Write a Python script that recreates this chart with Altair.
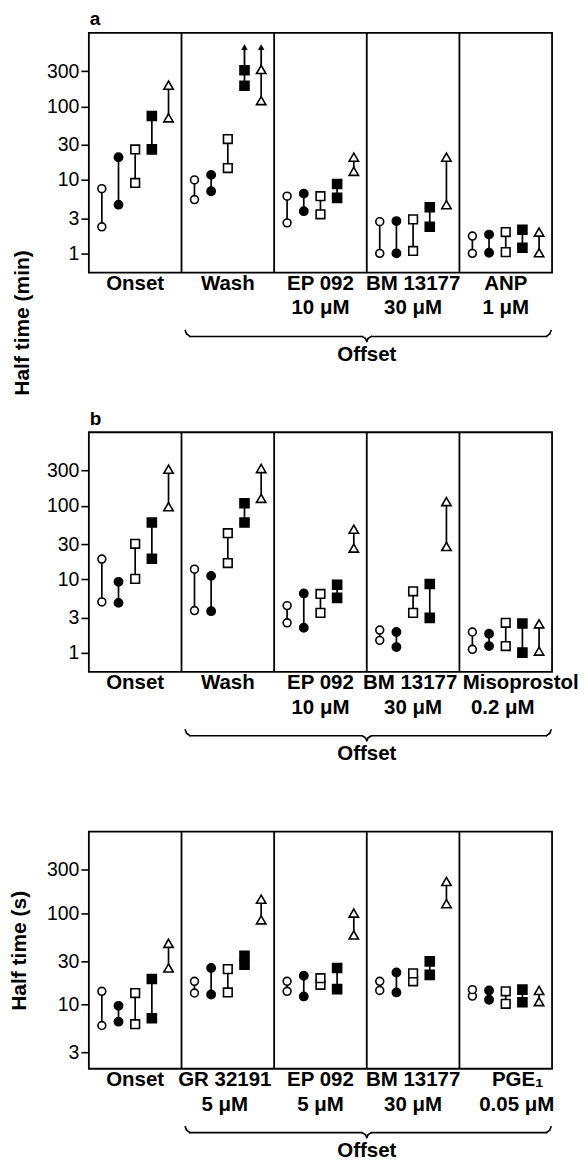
import altair as alt
import pandas as pd

FONT = "Liberation Sans"

SERIES = ["open circle", "filled circle", "open square", "filled square", "open triangle"]
SHAPES = ["circle", "circle", "square", "square", "triangle-up"]
FILLS = ["white", "black", "white", "black", "white"]
SIZES = [62, 88, 62, 88, 80]

# ---------------- Panel a : half time (min) ----------------
A_LABELS = ["Onset", "Wash", "EP 092\n10 μM", "BM 13177\n30 μM", "ANP\n1 μM"]
A_OPEN_CIRCLE = [(2.3, 7.6), (5.4, 10.0), (2.6, 6.0), (1.0, 2.7), (1.0, 1.72)]
A_FILLED_CIRCLE = [(4.6, 20.4), (7.0, 11.7), (3.75, 6.5), (1.0, 2.75), (1.02, 1.8)]
A_OPEN_SQUARE = [(9.1, 26.0), (14.5, 36.0), (3.4, 6.0), (1.08, 2.9), (1.04, 1.95)]
A_FILLED_SQUARE = [(26.0, 74.0), (191.0, 311.0), (5.7, 8.8), (2.3, 4.25), (1.19, 2.1)]
A_OPEN_TRIANGLE = [(70.0, 195.0), (120.0, 318.0), (13.1, 20.4), (4.6, 20.4), (1.02, 1.95)]
A_ARROWS = [(1, "filled square"), (1, "open triangle")]   # (group index, series)
A_ARROW_TIP = 640
A_TICKS = [1, 3, 10, 30, 100, 300]

# ---------------- Panel b : half time (min) ----------------
B_LABELS = ["Onset", "Wash", "EP 092\n10 μM", "BM 13177\n30 μM", "Misoprostol\n0.2 μM"]
B_OPEN_CIRCLE = [(4.9, 18.8), (3.74, 13.7), (2.55, 4.37), (1.47, 2.03), (1.11, 1.91)]
B_FILLED_CIRCLE = [(4.76, 9.2), (3.67, 11.1), (2.18, 6.4), (1.19, 1.91), (1.23, 1.81)]
B_OPEN_SQUARE = [(10.1, 30.3), (16.6, 42.3), (3.48, 6.3), (3.48, 6.85), (1.23, 2.55)]
B_FILLED_SQUARE = [(19.0, 59.0), (59.0, 108.0), (5.56, 8.4), (2.98, 8.6), (1.0, 2.49)]
B_OPEN_TRIANGLE = [(97.0, 314.0), (126.0, 321.0), (26.5, 47.9), (27.9, 114.0), (1.05, 2.47)]
B_TICKS = [1, 3, 10, 30, 100, 300]

# ---------------- Panel c : half time (s) ----------------
C_LABELS = ["Onset", "GR 32191\n5 μM", "EP 092\n5 μM", "BM 13177\n30 μM", "PGE₁\n0.05 μM"]
C_OPEN_CIRCLE = [(5.9, 14.0), (13.4, 18.0), (14.0, 18.0), (14.3, 18.0), (12.4, 14.6)]
C_FILLED_CIRCLE = [(6.5, 9.7), (12.9, 25.2), (12.3, 20.7), (13.6, 22.5), (11.3, 14.3)]
C_OPEN_SQUARE = [(6.1, 13.4), (13.6, 24.5), (16.5, 19.5), (18.0, 22.0), (10.2, 14.0)]
C_FILLED_SQUARE = [(7.1, 19.1), (27.4, 34.4), (14.8, 25.2), (21.2, 29.8), (10.6, 14.6)]
C_OPEN_TRIANGLE = [(25.2, 47.0), (85.0, 143.0), (58.0, 101.0), (128.0, 224.0), (10.8, 14.3)]
C_TICKS = [3, 10, 30, 100, 300]

OFFSET_LABEL = "Offset"

W = 464
GROUP_PX = W / 5.0


def brace_segments(x0, x1, xm, top, mid, tip):
    pts = [(x0, top), (x0 + 0.015, top + 3.5), (x0 + 0.05, mid),
           (xm - 0.05, mid), (xm - 0.015, mid + 2), (xm, tip),
           (xm + 0.015, mid + 2), (xm + 0.05, mid),
           (x1 - 0.05, mid), (x1 - 0.015, top + 3.5), (x1, top)]
    segs = []
    for (ax, ay), (bx, by) in zip(pts[:-1], pts[1:]):
        segs.append({"bx": ax, "bx2": bx, "p1": ay, "p2": by})
    return pd.DataFrame(segs)


def panel(letter, labels, series_lists, ticks, domain, height, ytitle,
          title_x, title_y, arrows=(), arrow_tip=None, shift1=None, shift2=None):
    rows = []
    for si, (name, pairs) in enumerate(zip(SERIES, series_lists)):
        for gi, (lo, hi) in enumerate(pairs):
            rows.append({"series": name, "group": gi,
                         "x": gi + 0.5 + (si - 2) * 0.18, "lo": lo, "hi": hi})
    df = pd.DataFrame(rows)
    pts = pd.concat([df.assign(v=df["lo"]), df.assign(v=df["hi"])], ignore_index=True)

    xs = alt.Scale(domain=[0, 5], nice=False, zero=False)
    ys = alt.Scale(type="log", domain=domain, nice=False)
    yaxis = alt.Axis(values=ticks, format="d", grid=False, domain=False,
                     tickColor="black", tickSize=8, tickWidth=1.6,
                     labelFont=FONT, labelFontSize=19.5, labelColor="black",
                     labelPadding=2, title=ytitle, titleFont=FONT,
                     titleFontSize=21, titleFontWeight="bold", titleColor="black",
                     titleAngle=-90, titleAlign="center", titleBaseline="middle",
                     titleX=title_x, titleY=title_y)
    X = alt.X("x:Q", scale=xs, axis=None)

    base = alt.Chart(df)
    rules = base.mark_rule(color="black", strokeWidth=1.7).encode(
        x=X, y=alt.Y("lo:Q", scale=ys, axis=yaxis), y2="hi:Q")

    layers = []
    if arrows:
        arr = pd.DataFrame([
            {"x": g + 0.5 + (SERIES.index(s) - 2) * 0.18,
             "hi": dict(zip(df[(df.group == g)].series, df[(df.group == g)].hi))[s],
             "tip": arrow_tip}
            for g, s in arrows])
        layers.append(alt.Chart(arr).mark_rule(color="black", strokeWidth=1.8).encode(
            x=X, y=alt.Y("hi:Q", scale=ys, axis=yaxis), y2="tip:Q"))
        layers.append(alt.Chart(arr).mark_point(
            shape="triangle-up", filled=True, fill="black", stroke="black",
            strokeWidth=0.5, size=34, opacity=1).encode(
            x=X, y=alt.Y("tip:Q", scale=ys, axis=yaxis)))

    points = alt.Chart(pts).mark_point(filled=True, stroke="black",
                                       strokeWidth=1.6, opacity=1).encode(
        x=X,
        y=alt.Y("v:Q", scale=ys, axis=yaxis),
        shape=alt.Shape("series:N", scale=alt.Scale(domain=SERIES, range=SHAPES), legend=None),
        fill=alt.Fill("series:N", scale=alt.Scale(domain=SERIES, range=FILLS), legend=None),
        size=alt.Size("series:N", scale=alt.Scale(domain=SERIES, range=SIZES), legend=None),
    )

    dividers = alt.Chart(pd.DataFrame({"b": [1, 2, 3, 4]})).mark_rule(
        color="black", strokeWidth=1.8).encode(x=alt.X("b:Q", scale=xs, axis=None))

    shift1 = shift1 or [0] * 5
    shift2 = shift2 or [0] * 5
    l1 = [s.split("\n")[0] for s in labels]
    l2 = [s.split("\n")[1] if "\n" in s else "" for s in labels]
    lab1 = pd.DataFrame({"cx": [i + 0.5 + shift1[i] / GROUP_PX for i in range(5)], "label": l1})
    lab2 = pd.DataFrame({"cx": [i + 0.5 + shift2[i] / GROUP_PX for i in range(5)], "label": l2})
    txt = dict(baseline="top", align="center", font=FONT, fontSize=20.5,
               fontWeight="bold", color="black")
    xlabels1 = alt.Chart(lab1).mark_text(**txt).encode(
        x=alt.X("cx:Q", scale=xs, axis=None), y=alt.value(height + 1.5), text="label:N")
    xlabels2 = alt.Chart(lab2).mark_text(**txt).encode(
        x=alt.X("cx:Q", scale=xs, axis=None), y=alt.value(height + 26), text="label:N")

    brace = alt.Chart(brace_segments(1.04, 4.99, 3.0, height + 58, height + 64, height + 69)).mark_rule(
        color="black", strokeWidth=1.6, strokeCap="round").encode(
        x=alt.X("bx:Q", scale=xs, axis=None), x2="bx2:Q",
        y=alt.Y("p1:Q", scale=None), y2="p2:Q")

    off = alt.Chart(pd.DataFrame({"cx": [3.0], "label": [OFFSET_LABEL]})).mark_text(
        baseline="middle", align="center", font=FONT, fontSize=20.5,
        fontWeight="bold", color="black").encode(
        x=alt.X("cx:Q", scale=xs, axis=None), y=alt.value(height + 82.5), text="label:N")

    parts = [rules] + layers + [points, dividers, xlabels1, xlabels2, brace, off]
    if letter:
        let = alt.Chart(pd.DataFrame({"t": [letter]})).mark_text(
            align="left", baseline="alphabetic", font=FONT, fontSize=19,
            fontWeight="bold", color="black").encode(
            x=alt.value(1), y=alt.value(-7.5), text="t:N")
        parts.append(let)

    return alt.layer(*parts).properties(width=W, height=height)


pa = panel("a", A_LABELS,
           [A_OPEN_CIRCLE, A_FILLED_CIRCLE, A_OPEN_SQUARE, A_FILLED_SQUARE, A_OPEN_TRIANGLE],
           A_TICKS, [0.548, 1000], 240, "Half time (min)", -66, 290,
           arrows=A_ARROWS, arrow_tip=A_ARROW_TIP)
pb = panel("b", B_LABELS,
           [B_OPEN_CIRCLE, B_FILLED_CIRCLE, B_OPEN_SQUARE, B_FILLED_SQUARE, B_OPEN_TRIANGLE],
           B_TICKS, [0.548, 1000], 240, "", -66, 120,
           shift1=[0, 0, 0, -3, 15], shift2=[0, 0, 0, 0, -3])
pc = panel("", C_LABELS,
           [C_OPEN_CIRCLE, C_FILLED_CIRCLE, C_OPEN_SQUARE, C_FILLED_SQUARE, C_OPEN_TRIANGLE],
           C_TICKS, [1.98, 790], 237.6, "Half time (s)", -69, 119,
           shift1=[0, -3, 0, 0, 12], shift2=[0, -3, 0, 0, 11])

chart = alt.vconcat(pa, pb, pc, spacing=160, bounds="flush").properties(
    padding={"left": 0, "top": 0, "right": 0, "bottom": 0}
).configure_view(stroke="black", strokeWidth=1.8)

chart.save("out.html", embed_options={"renderer": "svg", "actions": False})
